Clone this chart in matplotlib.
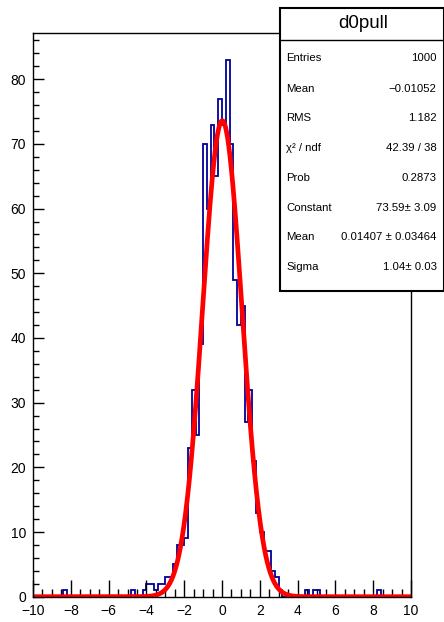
import numpy as np
import matplotlib
matplotlib.use("Agg")
import matplotlib.pyplot as plt
from matplotlib.patches import Rectangle
from matplotlib.ticker import MultipleLocator

plt.rcParams['font.family'] = ['Liberation Sans', 'DejaVu Sans']

# d0pull histogram: 100 bins from -10 to 10
bin_edges = np.linspace(-10, 10, 101)
counts = [
    0, 0, 0, 0, 0, 0, 0, 0, 1, 0,
    0, 0, 0, 0, 0, 0, 0, 0, 0, 0,
    0, 0, 0, 0, 0, 0, 1, 0, 0, 1,
    2, 2, 1, 2, 2, 3, 3, 5, 8, 8,
    9, 23, 32, 25, 39, 70, 60, 73, 65, 77,
    73, 83, 70, 49, 42, 45, 27, 32, 21, 13,
    10, 7, 7, 4, 3, 1, 0, 0, 0, 0,
    0, 0, 1, 0, 1, 1, 0, 0, 0, 0,
    0, 0, 0, 0, 0, 0, 0, 0, 0, 0,
    0, 1, 0, 0, 0, 0, 0, 0, 0, 0,
]

# gaussian fit parameters (from the stats box)
fit_const = 73.59
fit_mean = 0.01407
fit_sigma = 1.04

stat_labels = ['Entries', 'Mean', 'RMS', 'χ² / ndf', 'Prob', 'Constant', 'Mean', 'Sigma']
stat_values = ['1000', '\u22120.01052', '1.182', '42.39 / 38', '0.2873',
               '73.59± 3.09', '0.01407 ± 0.03464', '1.04± 0.03']

W, H = 444, 622
fig = plt.figure(figsize=(W / 100, H / 100), dpi=100)
ax = fig.add_axes([33 / W, 1 - 596.7 / H, 378 / W, 563.7 / H])

ax.stairs(counts, bin_edges, color='#000099', lw=1.3, baseline=0)

xf = np.linspace(-10, 10, 1000)
yf = fit_const * np.exp(-0.5 * ((xf - fit_mean) / fit_sigma) ** 2)
ax.plot(xf, yf, color='red', lw=3.4, solid_capstyle='butt')

ax.set_xlim(-10, 10)
ax.set_ylim(0, 87.15)
ax.xaxis.set_major_locator(MultipleLocator(2))
ax.xaxis.set_minor_locator(MultipleLocator(0.5))
ax.yaxis.set_major_locator(MultipleLocator(10))
ax.yaxis.set_minor_locator(MultipleLocator(2))
ax.tick_params(which='both', direction='in', top=False, right=False, labelsize=10, width=1)
ax.tick_params(axis='x', which='major', length=12, pad=5)
ax.tick_params(axis='x', which='minor', length=6)
ax.tick_params(axis='y', which='major', length=8, pad=5)
ax.tick_params(axis='y', which='minor', length=4)
for s in ax.spines.values():
    s.set_linewidth(1.0)

# stats box
bx0, bx1 = 279.5 / W, 1.0
by_top, by_bot, by_sep = 1 - 8 / H, 1 - 291 / H, 1 - 40 / H
fig.add_artist(Rectangle((bx0, by_bot), bx1 - bx0, by_top - by_bot, transform=fig.transFigure,
                         facecolor='white', edgecolor='black', lw=1.5, zorder=5))
fig.add_artist(plt.Line2D([bx0, bx1], [by_sep, by_sep], transform=fig.transFigure,
                          color='black', lw=1.0, zorder=6))
fig.text(363 / W, 1 - 24 / H, 'd0pull', ha='center', va='center', fontsize=13.5, zorder=7)
row_y = [58.3, 89.0, 118.3, 147.8, 178.3, 207.5, 237.3, 266.7]
for lab, val, yy in zip(stat_labels, stat_values, row_y):
    fig.text(286 / W, 1 - yy / H, lab, ha='left', va='center', fontsize=8.2, zorder=7)
    fig.text(436.5 / W, 1 - yy / H, val, ha='right', va='center', fontsize=8.2, zorder=7)

fig.savefig('out.png', dpi=100)
